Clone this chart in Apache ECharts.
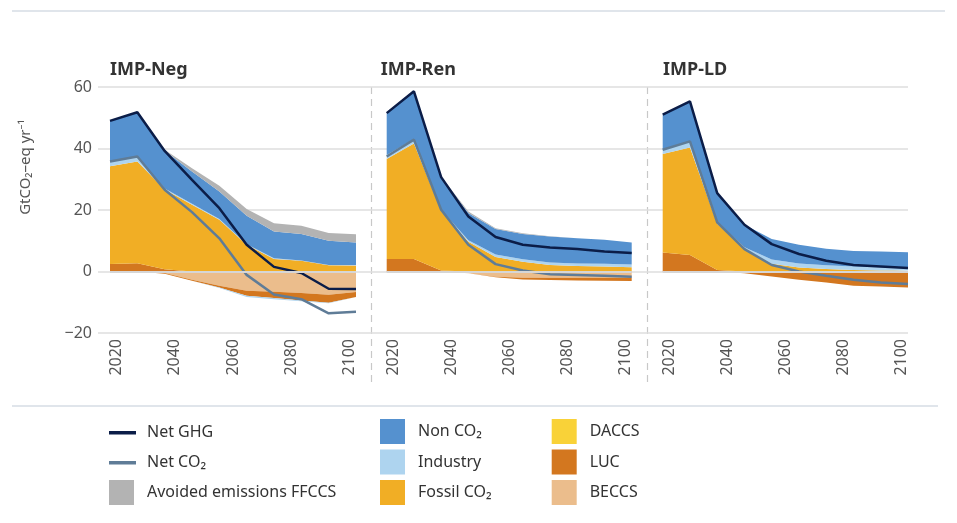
<!DOCTYPE html>
<html><head><meta charset="utf-8">
<script src="https://cdn.jsdelivr.net/npm/echarts@6/dist/echarts.min.js"></script>
<style>html,body{margin:0;padding:0;background:#fff}#c{width:957px;height:523px}</style>
</head><body><div id="c"></div>
<script>
// ---------- DATA ----------
const years = [2017.7, 2027.1, 2036.5, 2045.9, 2055.3, 2064.7, 2074.1, 2083.5, 2092.9, 2102.3];
const xTickLabels = [2020, 2040, 2060, 2080, 2100];
const panelTitles = ['IMP-Neg', 'IMP-Ren', 'IMP-LD'];

// IMP-Neg
const impNegLucPos      = [2.4, 2.7, 0.7, 0, 0, 0, 0, 0, 0, 0];
const impNegFossil      = [31.8, 33.1, 26.0, 21.7, 16.8, 8.7, 4.1, 3.5, 2.0, 1.9];
const impNegIndustryPos = [1.6, 1.6, 0.3, 0.3, 0.3, 0.2, 0.2, 0.1, 0.1, 0.1];
const impNegNonCO2      = [13.2, 14.4, 12.3, 10.5, 8.9, 9.2, 8.7, 8.6, 7.9, 7.4];
const impNegAvoided     = [0, 0, 0.3, 1.1, 1.9, 2.2, 2.7, 2.7, 2.5, 2.7];
const impNegBeccs       = [0, 0, -0.5, -2.7, -4.6, -6.3, -6.6, -7.0, -7.6, -6.7];
const impNegLucNeg      = [0, 0, -0.2, -0.3, -0.6, -1.6, -2.0, -2.4, -2.6, -1.6];
const impNegIndustryNeg = [0, 0, 0, 0, -0.2, -0.4, -0.4, -0.3, -0.1, 0];
const impNegDaccs       = [0, 0, 0, 0, 0, 0, 0, 0, 0, 0];
const impNegNetGHG      = [49.0, 51.8, 39.2, 29.8, 20.6, 8.7, 1.5, -0.5, -5.6, -5.7];
const impNegNetCO2      = [35.8, 37.4, 26.6, 19.3, 10.8, -1.1, -7.5, -9.0, -13.6, -13.1];

// IMP-Ren
const impRenLucPos      = [4.1, 4.1, 0.3, 0, 0, 0, 0, 0, 0, 0];
const impRenFossil      = [32.5, 37.5, 19.5, 9.7, 4.7, 3.2, 2.1, 1.8, 1.6, 1.4];
const impRenIndustryPos = [1.3, 1.5, 0.3, 0.5, 0.8, 0.8, 0.8, 0.8, 0.9, 0.9];
const impRenNonCO2      = [13.6, 15.5, 10.6, 8.8, 8.3, 8.2, 8.5, 8.2, 7.8, 7.1];
const impRenAvoided     = [0, 0, 0.1, 0.5, 0.3, 0.2, 0.1, 0, 0, 0];
const impRenBeccs       = [0, 0, 0, -0.6, -1.7, -2.0, -2.0, -2.0, -2.0, -2.0];
const impRenLucNeg      = [0, 0, 0, 0, -0.2, -0.6, -0.8, -0.9, -1.0, -1.1];
const impRenIndustryNeg = [0, 0, 0, 0, 0, 0, 0, 0, 0, 0];
const impRenDaccs       = [0, 0, 0, 0, 0, 0, 0, 0, 0, 0];
const impRenNetGHG      = [51.5, 58.6, 30.7, 17.9, 11.2, 8.7, 7.8, 7.3, 6.5, 6.0];
const impRenNetCO2      = [37.4, 42.9, 20.1, 8.7, 2.4, 0.3, -0.9, -1.1, -1.4, -1.7];

// IMP-LD
const impLdLucPos       = [6.2, 5.4, 0.5, 0, 0, 0, 0, 0, 0, 0];
const impLdFossil       = [32.0, 34.9, 15.0, 7.3, 2.5, 1.3, 0.8, 0.5, 0.3, 0.3];
const impLdIndustryPos  = [1.4, 2.0, 0.5, 0.6, 1.4, 1.3, 1.2, 1.1, 1.0, 1.0];
const impLdNonCO2       = [11.4, 13.0, 9.5, 7.3, 6.7, 6.1, 5.4, 5.1, 5.2, 5.0];
const impLdAvoided      = [0, 0, 0, 0, 0, 0, 0, 0, 0, 0];
const impLdBeccs        = [0, 0, 0, 0, 0, -0.1, -0.2, -0.3, -0.3, -0.3];
const impLdLucNeg       = [0, 0, 0, -0.6, -1.6, -2.6, -3.4, -4.3, -4.6, -4.9];
const impLdIndustryNeg  = [0, 0, 0, 0, 0, 0, 0, 0, 0, 0];
const impLdDaccs        = [0, 0, 0, 0, 0, 0, 0, 0, 0, 0];
const impLdNetGHG       = [51.0, 55.3, 25.5, 15.2, 8.9, 5.7, 3.5, 2.1, 1.6, 1.1];
const impLdNetCO2       = [39.6, 42.3, 16.0, 7.3, 2.1, 0, -1.4, -2.7, -3.6, -4.1];

// ---------- STYLE ----------
const FONT = 'Noto Sans';
const C = {
  ghg: '#0b1d48', co2: '#5f7c97', avoided: '#b3b3b3', nonco2: '#5591cf',
  industry: '#aed4ef', fossil: '#f1ae25', daccs: '#f9d238', luc: '#d3771f', beccs: '#ebbd8c'
};
const N = {
  ghg: 'Net GHG', co2: 'Net CO\u2082', avoided: 'Avoided emissions FFCCS', nonco2: 'Non CO\u2082',
  industry: 'Industry', fossil: 'Fossil CO\u2082', daccs: 'DACCS', luc: 'LUC', beccs: 'BECCS'
};
const panels = [
  {lucPos: impNegLucPos, fossil: impNegFossil, indPos: impNegIndustryPos, nonco2: impNegNonCO2, avoided: impNegAvoided,
   beccs: impNegBeccs, lucNeg: impNegLucNeg, indNeg: impNegIndustryNeg, daccs: impNegDaccs, ghg: impNegNetGHG, co2: impNegNetCO2},
  {lucPos: impRenLucPos, fossil: impRenFossil, indPos: impRenIndustryPos, nonco2: impRenNonCO2, avoided: impRenAvoided,
   beccs: impRenBeccs, lucNeg: impRenLucNeg, indNeg: impRenIndustryNeg, daccs: impRenDaccs, ghg: impRenNetGHG, co2: impRenNetCO2},
  {lucPos: impLdLucPos, fossil: impLdFossil, indPos: impLdIndustryPos, nonco2: impLdNonCO2, avoided: impLdAvoided,
   beccs: impLdBeccs, lucNeg: impLdLucNeg, indNeg: impLdIndustryNeg, daccs: impLdDaccs, ghg: impLdNetGHG, co2: impLdNetCO2}
];
const layout = [
  {left: 110, width: 246, titleLeft: 110},
  {left: 386.7, width: 245, titleLeft: 380.7},
  {left: 662.7, width: 245.3, titleLeft: 663}
];
const GRID_TOP = 87, GRID_H = 246;

// value first (dim 0, stacked), year second (dim 1)
const pairs = arr => arr.map((v, k) => [v, years[k]]);

const grid = [{left: 98, top: GRID_TOP, width: 810, height: GRID_H}];
const xAxis = [{gridIndex: 0, type: 'value', show: false, min: 0, max: 1}];
const yAxis = [{
  gridIndex: 0, type: 'value', min: -20, max: 60, interval: 20,
  axisLine: {show: false}, axisTick: {show: false},
  axisLabel: {margin: 6, fontSize: 16, color: '#555', fontFamily: FONT,
    formatter: v => v < 0 ? '\u2212' + Math.abs(v) : String(v)},
  splitLine: {lineStyle: {color: '#dedede', width: 1.5}}
}];
const series = [];
const title = [];

panels.forEach((p, i) => {
  const L = layout[i];
  grid.push({left: L.left, top: GRID_TOP, width: L.width, height: GRID_H});
  xAxis.push({
    gridIndex: i + 1, type: 'value', min: years[0], max: years[years.length - 1],
    axisLine: {show: false}, axisTick: {show: false}, splitLine: {show: false},
    axisLabel: {customValues: xTickLabels, rotate: 90, margin: 6, fontSize: 16, color: '#555', fontFamily: FONT,
      formatter: v => String(v)}
  });
  yAxis.push({gridIndex: i + 1, type: 'value', min: -20, max: 60, interval: 20, show: false});
  title.push({text: panelTitles[i], left: L.titleLeft, top: 61, padding: 0,
    textStyle: {fontSize: 18, fontWeight: 'bold', color: '#333', fontFamily: FONT}});

  const area = (name, arr, color, stack) => ({
    type: 'line', name, xAxisIndex: i + 1, yAxisIndex: i + 1, stack: stack + i,
    data: pairs(arr), encode: {x: 1, y: 0}, symbol: 'none', color,
    lineStyle: {width: 0}, areaStyle: {color, opacity: 1}, silent: true, z: 2
  });
  series.push(area(N.luc, p.lucPos, C.luc, 'pos'));
  series.push(area(N.fossil, p.fossil, C.fossil, 'pos'));
  series.push(area(N.industry, p.indPos, C.industry, 'pos'));
  series.push(area(N.nonco2, p.nonco2, C.nonco2, 'pos'));
  series.push(area(N.avoided, p.avoided, C.avoided, 'pos'));
  series.push(area(N.beccs, p.beccs, C.beccs, 'neg'));
  series.push(area(N.luc, p.lucNeg, C.luc, 'neg'));
  series.push(area(N.industry, p.indNeg, C.industry, 'neg'));
  series.push(area(N.daccs, p.daccs, C.daccs, 'neg'));
  series.push({
    type: 'line', name: N.co2, xAxisIndex: i + 1, yAxisIndex: i + 1, data: pairs(p.co2), encode: {x: 1, y: 0},
    symbol: 'none', color: C.co2, lineStyle: {color: C.co2, width: 2.5}, z: 3, silent: true,
    markLine: {silent: true, symbol: ['none', 'none'], label: {show: false},
      lineStyle: {color: '#d6d6d6', width: 1.8, type: 'solid'}, data: [{yAxis: 0}]}
  });
  series.push({
    type: 'line', name: N.ghg, xAxisIndex: i + 1, yAxisIndex: i + 1, data: pairs(p.ghg), encode: {x: 1, y: 0},
    symbol: 'none', color: C.ghg, lineStyle: {color: C.ghg, width: 2.5}, z: 4, silent: true
  });
});

const sqIcon = 'path://M0,0L25,0L25,25L0,25Z M33,25';
const lnIcon = 'path://M0,11L27,11L27,14.5L0,14.5Z M0,0 M33,25';
const legendBase = {orient: 'vertical', itemWidth: 33, itemHeight: 25, padding: 0, selectedMode: false,
  itemStyle: {borderWidth: 0}, textStyle: {fontSize: 16, color: '#333', fontFamily: FONT}};
const li = (key, icon) => ({name: N[key], icon, itemStyle: {color: C[key], borderWidth: 0}});
const legend = [
  Object.assign({}, legendBase, {left: 109, top: 420, itemGap: 5,
    data: [li('ghg', lnIcon), li('co2', lnIcon), li('avoided', sqIcon)]}),
  Object.assign({}, legendBase, {left: 380, top: 419, itemGap: 5.5,
    data: [li('nonco2', sqIcon), li('industry', sqIcon), li('fossil', sqIcon)]}),
  Object.assign({}, legendBase, {left: 551.7, top: 419, itemGap: 5.5,
    data: [li('daccs', sqIcon), li('luc', sqIcon), li('beccs', sqIcon)]})
];

const rule = '#d6dce4', dash = '#c8c8c8';
const graphic = [
  {type: 'line', shape: {x1: 12, y1: 11, x2: 945, y2: 11}, style: {stroke: rule, lineWidth: 1.5}, silent: true},
  {type: 'line', shape: {x1: 12, y1: 406, x2: 938, y2: 406}, style: {stroke: rule, lineWidth: 1.5}, silent: true},
  {type: 'line', shape: {x1: 371.5, y1: 87, x2: 371.5, y2: 382}, style: {stroke: dash, lineWidth: 1.2, lineDash: [7, 5]}, silent: true},
  {type: 'line', shape: {x1: 647.5, y1: 87, x2: 647.5, y2: 382}, style: {stroke: dash, lineWidth: 1.2, lineDash: [7, 5]}, silent: true},
  {type: 'text', x: 26, y: 167, rotation: Math.PI / 2, silent: true,
    style: {text: 'GtCO\u2082\u2013eq yr\u207B\u00B9', fontSize: 15, fill: '#555', fontFamily: FONT,
      align: 'center', verticalAlign: 'middle'}}
];

const chart = echarts.init(document.getElementById('c'), null, {renderer: 'canvas'});
chart.setOption({animation: false, backgroundColor: '#fff', title, grid, xAxis, yAxis, series, legend, graphic});
</script>
</body></html>
